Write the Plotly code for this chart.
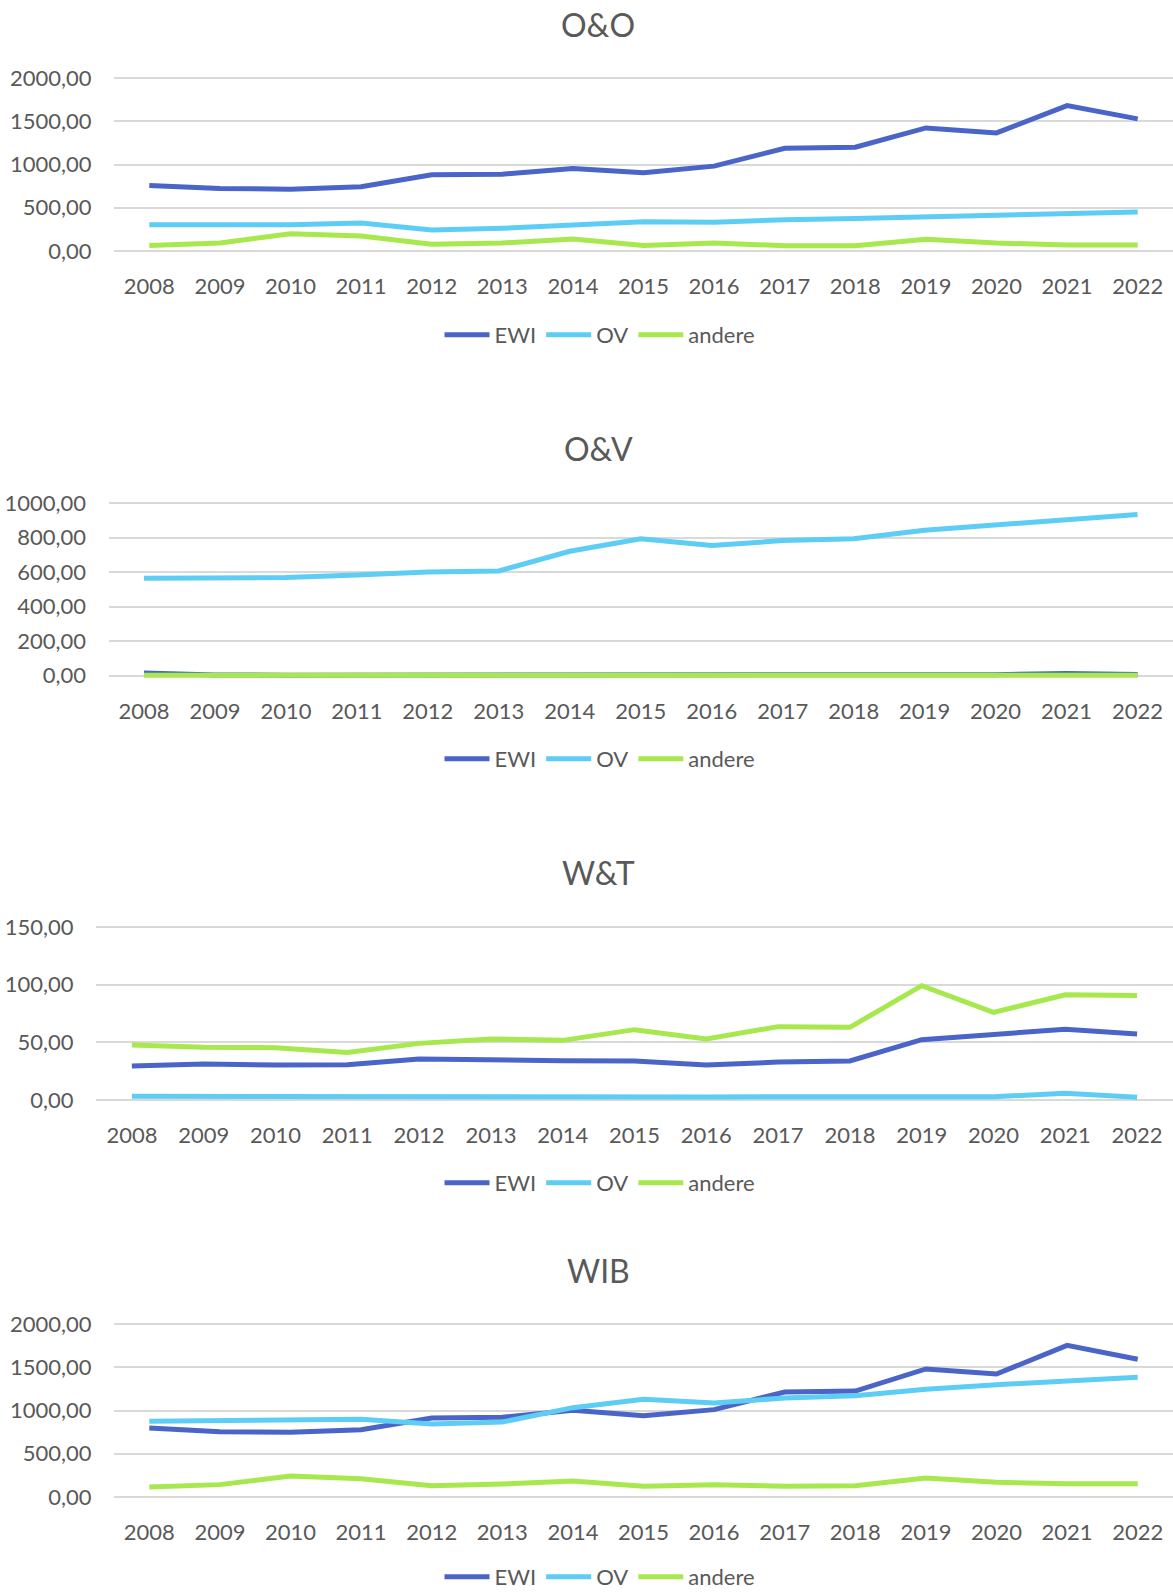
import plotly.graph_objects as go

W, H = 1173, 1593

years = [str(y) for y in range(2008, 2023)]
series_names = ["EWI", "OV", "andere"]
colors = {"EWI": "#4A64C8", "OV": "#5DCDF5", "andere": "#A6E84E"}

oo_ewi = [758, 723, 715, 742, 881, 888, 954, 904, 981, 1188, 1200, 1423, 1365, 1681, 1527]
oo_ov = [304, 304, 304, 323, 242, 262, 300, 338, 331, 362, 377, 396, 419, 431, 450]
oo_andere = [65, 92, 200, 173, 77, 92, 138, 65, 92, 62, 62, 135, 92, 69, 69]

ov_ewi = [15, 3, 2, 2, 2, 2, 3, 4, 8, 4, 3, 4, 5, 12, 6]
ov_ov = [564, 566, 568, 583, 600, 606, 720, 792, 753, 782, 793, 842, 873, 903, 934]
ov_andere = [2, 1, 1, 1, 1, 1, 1, 1, 1, 1, 1, 1, 1, 1, 1]

wt_ewi = [29.5, 31.2, 30.3, 30.6, 35.5, 35.3, 34.1, 33.8, 30.3, 32.9, 33.8, 52.3, 57.2, 61.3, 57.2]
wt_ov = [3.2, 3.0, 3.0, 3.0, 3.2, 3.2, 2.8, 2.5, 2.5, 2.8, 3.0, 3.0, 2.8, 5.8, 2.3]
wt_andere = [47.7, 45.7, 45.4, 41.3, 49.1, 52.9, 51.7, 61.0, 52.9, 63.6, 63.0, 99.1, 76.0, 91.3, 90.5]

wib_ewi = [798, 755, 748, 778, 913, 921, 1002, 940, 1010, 1214, 1225, 1480, 1422, 1753, 1592]
wib_ov = [875, 882, 882, 898, 844, 867, 1033, 1129, 1087, 1144, 1171, 1245, 1299, 1345, 1383]
wib_andere = [116, 143, 243, 212, 131, 150, 185, 123, 143, 123, 131, 220, 170, 154, 154]

titles = ["O&O", "O&V", "W&T", "WIB"]
y_ticks = [
    [0, 500, 1000, 1500, 2000],
    [0, 200, 400, 600, 800, 1000],
    [0, 50, 100, 150],
    [0, 500, 1000, 1500, 2000],
]
panel_data = [
    [oo_ewi, oo_ov, oo_andere],
    [ov_ewi, ov_ov, ov_andere],
    [wt_ewi, wt_ov, wt_andere],
    [wib_ewi, wib_ov, wib_andere],
]

# layout geometry (pixels)
geom = [
    dict(top=78, bot=251, left=114, title=24, leg=335),
    dict(top=503, bot=675.5, left=108.5, title=448, leg=759),
    dict(top=927, bot=1100, left=96, title=872, leg=1183),
    dict(top=1324, bot=1497, left=114, title=1270, leg=1577),
]

FONT = "Lato"
TXT = "#595959"

fig = go.Figure()
layout = dict(
    template="none",
    width=W, height=H, autosize=False,
    margin=dict(l=0, r=0, t=0, b=0, pad=0, autoexpand=False),
    paper_bgcolor="white", plot_bgcolor="white",
    font=dict(family=FONT, color=TXT, size=21),
    annotations=[],
    hovermode="closest",
)

for i in range(4):
    g = geom[i]
    vmax = y_ticks[i][-1]
    ppu = (g["bot"] - g["top"]) / vmax
    pad = 4 / ppu
    top_px = g["top"] - pad * ppu
    bot_px = g["bot"] + pad * ppu
    xa = "x" if i == 0 else f"x{i+1}"
    ya = "y" if i == 0 else f"y{i+1}"
    leg = "legend" if i == 0 else f"legend{i+1}"
    for name, vals in zip(series_names, panel_data[i]):
        fig.add_trace(go.Scatter(
            x=years, y=vals, name=name, mode="lines",
            line=dict(color=colors[name], width=5),
            xaxis=xa, yaxis=ya, legend=leg,
            hovertemplate="%{x}: %{y:,.2f}<extra>" + name + "</extra>",
        ))
    xkey = "xaxis" if i == 0 else f"xaxis{i+1}"
    ykey = "yaxis" if i == 0 else f"yaxis{i+1}"
    layout[xkey] = dict(
        type="category", range=[-0.5, 14.5],
        domain=[g["left"] / W, 1.0],
        anchor=ya, showgrid=False, zeroline=False, showline=False,
        ticks="outside", ticklen=12, tickcolor="rgba(0,0,0,0)",
        tickfont=dict(family=FONT, size=22, color=TXT),
        automargin=False, fixedrange=True,
    )
    layout[ykey] = dict(
        range=[-pad, vmax + pad],
        domain=[1 - bot_px / H, 1 - top_px / H],
        anchor=xa, tickvals=y_ticks[i],
        ticktext=[f"{v:.2f}".replace(".", ",") for v in y_ticks[i]],
        showgrid=True, gridcolor="#D9D9D9", gridwidth=1.5,
        zeroline=False, showline=False,
        ticks="outside", ticklen=17, tickcolor="rgba(0,0,0,0)",
        tickfont=dict(family=FONT, size=22, color=TXT),
        automargin=False, fixedrange=True,
    )
    layout[leg] = dict(
        orientation="h", x=600 / W, xanchor="center",
        y=1 - g["leg"] / H, yanchor="middle",
        font=dict(family=FONT, size=22, color=TXT),
        bgcolor="rgba(0,0,0,0)", itemwidth=45,
        tracegroupgap=0,
    )
    layout["annotations"].append(dict(
        text=titles[i], x=598 / W, y=1 - g["title"] / H,
        xref="paper", yref="paper", xanchor="center", yanchor="middle",
        showarrow=False, font=dict(family=FONT, size=32, color=TXT),
    ))

fig.update_layout(**layout)
fig.write_html(
    "out.html",
    config={"displayModeBar": False},
    post_script="document.body.style.margin='0';document.body.style.overflow='hidden';",
)
